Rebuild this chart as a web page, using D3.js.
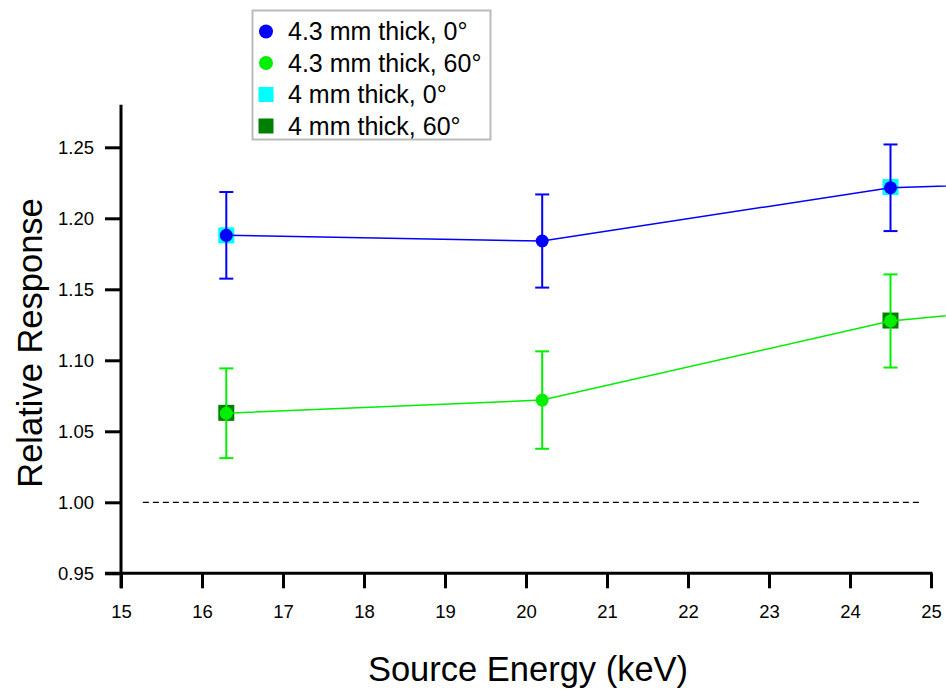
<!DOCTYPE html>
<html>
<head>
<meta charset="utf-8">
<script src="https://cdn.jsdelivr.net/npm/d3@7"></script>
<style>
  body { margin: 0; background: #fff; }
  svg { display: block; font-family: Arial, "Liberation Sans", sans-serif; }
</style>
</head>
<body>
<svg id="chart" width="946" height="689"></svg>
<script>
// Data (energy in keV)
const energies = [16.3, 20.2, 24.5, 30.0];
const thick43_0 = [1.188, 1.184, 1.2215, 1.231];
const thick43_0_err = [0.0305, 0.0328, 0.0305, 0.03];
const thick43_60 = [1.0627, 1.072, 1.1277, 1.157];
const thick43_60_err = [0.0316, 0.0343, 0.0328, 0.03];

const energies4 = [16.3, 24.5];
const thick4_0 = [1.188, 1.222];
const thick4_60 = [1.063, 1.128];

const xTicks = [15, 16, 17, 18, 19, 20, 21, 22, 23, 24, 25];
const yTicks = [0.95, 1.00, 1.05, 1.10, 1.15, 1.20, 1.25];
const refLine = { x0: 15.27, x1: 24.86, y: 1.0 };

const legendLabels = ["4.3 mm thick, 0°", "4.3 mm thick, 60°", "4 mm thick, 0°", "4 mm thick, 60°"];

const svg = d3.select("#chart");
const x = d3.scaleLinear().domain([15, 25]).range([121, 931]);
const y = d3.scaleLinear().domain([0.95, 1.28]).range([573.3, 104.7]);

// clip for the lines running past the right edge
svg.append("defs").append("clipPath").attr("id", "clip")
   .append("rect").attr("x", 0).attr("y", 0).attr("width", 946).attr("height", 689);

// dashed reference line at 1.00
svg.append("line")
   .attr("x1", x(refLine.x0)).attr("x2", x(refLine.x1))
   .attr("y1", y(refLine.y)).attr("y2", y(refLine.y))
   .attr("stroke", "#000").attr("stroke-width", 1.3)
   .attr("stroke-dasharray", "6,4");

// axes
const xAxis = svg.append("g").attr("transform", `translate(0,${y(0.95)})`)
   .call(d3.axisBottom(x).tickValues(xTicks).tickSize(15).tickPadding(17).tickFormat(d3.format("d")));
const yAxis = svg.append("g").attr("transform", `translate(${x(15)},0)`)
   .call(d3.axisLeft(y).tickValues(yTicks).tickSize(16).tickPadding(11).tickFormat(d3.format(".2f")));

[xAxis, yAxis].forEach(g => {
  g.attr("font-family", "Arial, 'Liberation Sans', sans-serif").attr("font-size", 18.5);
  g.select(".domain").remove();
  g.selectAll(".tick line").attr("stroke", "#000").attr("stroke-width", 3);
  g.selectAll(".tick text").attr("fill", "#000");
});
// axis lines (y line reaches below the x axis, x line ends at 25)
svg.append("line").attr("x1", x(15)).attr("x2", x(15))
   .attr("y1", y(1.28)).attr("y2", y(0.95) + 15)
   .attr("stroke", "#000").attr("stroke-width", 3);
svg.append("line").attr("x1", x(15) - 16).attr("x2", x(25) + 1.5)
   .attr("y1", y(0.95)).attr("y2", y(0.95))
   .attr("stroke", "#000").attr("stroke-width", 3);

// axis titles
svg.append("text")
   .attr("x", 528).attr("y", 681)
   .attr("text-anchor", "middle")
   .style("font-size", "34.5px")
   .text("Source Energy (keV)");
svg.append("text")
   .attr("transform", "translate(42,343) rotate(-90)")
   .attr("text-anchor", "middle")
   .style("font-size", "34.5px")
   .text("Relative Response");

const plot = svg.append("g").attr("clip-path", "url(#clip)");

// square series (drawn underneath)
function squares(xs, ys, color) {
  plot.selectAll(null).data(xs.map((d, i) => [d, ys[i]])).enter()
      .append("rect")
      .attr("x", d => x(d[0]) - 8).attr("y", d => y(d[1]) - 8)
      .attr("width", 16).attr("height", 16)
      .attr("fill", color);
}
squares(energies4, thick4_0, "#00ffff");
squares(energies4, thick4_60, "#008000");

// circle series with lines and error bars
function series(xs, ys, errs, color) {
  const pts = xs.map((d, i) => ({ x: d, y: ys[i], e: errs[i] }));
  plot.append("path")
      .datum(pts)
      .attr("fill", "none")
      .attr("stroke", color)
      .attr("stroke-width", 1.5)
      .attr("d", d3.line().x(d => x(d.x)).y(d => y(d.y)));

  const eb = plot.selectAll(null).data(pts).enter().append("g").attr("stroke", color).attr("stroke-width", 2);
  eb.append("line").attr("x1", d => x(d.x)).attr("x2", d => x(d.x))
    .attr("y1", d => y(d.y + d.e)).attr("y2", d => y(d.y - d.e));
  eb.append("line").attr("x1", d => x(d.x) - 7).attr("x2", d => x(d.x) + 7)
    .attr("y1", d => y(d.y + d.e)).attr("y2", d => y(d.y + d.e));
  eb.append("line").attr("x1", d => x(d.x) - 7).attr("x2", d => x(d.x) + 7)
    .attr("y1", d => y(d.y - d.e)).attr("y2", d => y(d.y - d.e));

  plot.selectAll(null).data(pts).enter()
      .append("circle")
      .attr("cx", d => x(d.x)).attr("cy", d => y(d.y))
      .attr("r", 6.5)
      .attr("fill", color);
}
series(energies, thick43_0, thick43_0_err, "#0000ff");
series(energies, thick43_60, thick43_60_err, "#00ee00");

// legend
const legend = svg.append("g");
legend.append("rect")
      .attr("x", 252.5).attr("y", 10.5).attr("width", 238).attr("height", 129)
      .attr("fill", "#fff").attr("stroke", "#bbbbbb").attr("stroke-width", 2);
const legendColors = ["#0000ff", "#00ee00", "#00ffff", "#008000"];
const legendShapes = ["circle", "circle", "square", "square"];
legendLabels.forEach((label, i) => {
  const cy = 31.5 + i * 31.5;
  if (legendShapes[i] === "circle") {
    legend.append("circle").attr("cx", 266).attr("cy", cy).attr("r", 7).attr("fill", legendColors[i]);
  } else {
    legend.append("rect").attr("x", 258.5).attr("y", cy - 7.5).attr("width", 15).attr("height", 15).attr("fill", legendColors[i]);
  }
  legend.append("text")
        .attr("x", 288).attr("y", cy + 8.5)
        .style("font-size", "25px")
        .text(label);
});
</script>
</body>
</html>
